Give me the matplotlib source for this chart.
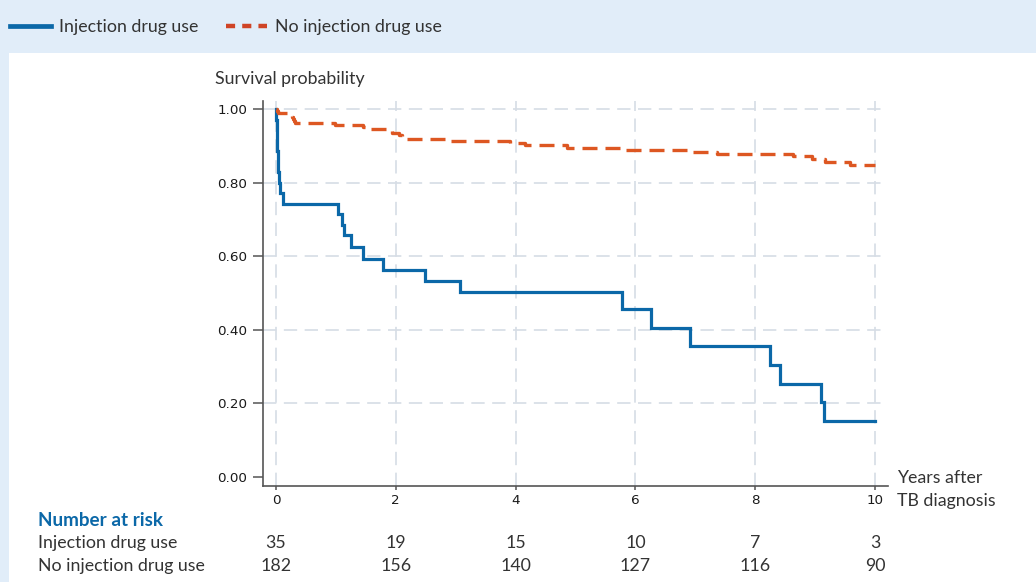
import matplotlib
matplotlib.use('Agg')
import matplotlib.pyplot as plt
from matplotlib.lines import Line2D
from matplotlib.patches import Rectangle
import matplotlib.transforms as mtransforms

# ---------------- data ----------------
groups = ["Injection drug use", "No injection drug use"]

t_idu = [0, 0.005, 0.01, 0.015, 0.02, 0.03, 0.04, 0.05, 0.07, 0.11,
         1.04, 1.10, 1.13, 1.26, 1.45, 1.78, 2.48, 3.08, 5.78, 6.26,
         6.91, 8.25, 8.41, 9.10, 9.15, 10.0]
s_idu = [1.0, 0.971, 0.943, 0.914, 0.886, 0.857, 0.829, 0.800, 0.771, 0.743,
         0.714, 0.686, 0.657, 0.626, 0.593, 0.562, 0.533, 0.503, 0.457, 0.406,
         0.356, 0.305, 0.254, 0.203, 0.152, 0.152]

t_nidu = [0, 0.01, 0.04, 0.24, 0.26, 0.28, 0.30, 0.32, 0.98, 1.45, 1.50,
          1.93, 2.05, 2.10, 2.15, 2.90, 3.90, 4.16, 4.85, 5.77, 6.91, 7.36,
          8.63, 8.94, 9.16, 9.58, 10.0]
s_nidu = [1.0, 0.995, 0.989, 0.984, 0.978, 0.973, 0.967, 0.962, 0.957, 0.951, 0.946,
          0.935, 0.929, 0.924, 0.918, 0.912, 0.907, 0.901, 0.894, 0.888, 0.884, 0.879,
          0.872, 0.865, 0.857, 0.848, 0.848]

risk_times = [0, 2, 4, 6, 8, 10]
risk_idu = [35, 19, 15, 10, 7, 3]
risk_nidu = [182, 156, 140, 127, 116, 90]

y_ticks = [0.0, 0.2, 0.4, 0.6, 0.8, 1.0]
x_ticks = [0, 2, 4, 6, 8, 10]

# ---------------- style ----------------
BLUE = '#0b68a8'
ORANGE = '#dd5722'
ORANGE_LEG = '#cf4426'
BG = '#e1edf9'
TEXT = '#333333'
GRID = '#d6dde5'
SPINE = '#555555'
FS = 12.8

plt.rcParams['font.family'] = ['Lato', 'DejaVu Sans']

W, H = 1036, 582
fig = plt.figure(figsize=(W / 100, H / 100), dpi=100)
fig.patch.set_facecolor(BG)
fig.add_artist(Rectangle((9 / W, 0), 1, (H - 53) / H, transform=fig.transFigure,
                         facecolor='white', edgecolor='none', zorder=-1))

def fx(px):
    return px / W

def fy(py):
    return 1 - py / H

ax = fig.add_axes([fx(263), fy(486), (888 - 263) / W, (486 - 101) / H])
ax.set_facecolor('none')

ax.step(t_idu, s_idu, where='post', color=BLUE, lw=2.3, solid_joinstyle='miter', zorder=3)
ax.step(t_nidu, s_nidu, where='post', color=ORANGE, lw=2.4,
        linestyle=(0, (4.5, 2.4)), zorder=3)

ax.set_xlim(-0.217, 10.217)
ax.set_ylim(-0.0245, 1.0217)

ax.set_yticks(y_ticks)
ax.set_yticklabels([f"{v:.2f}" for v in y_ticks], family='DejaVu Sans')
ax.set_xticks(x_ticks)
ax.set_xticklabels([str(v) for v in x_ticks], family='DejaVu Sans')

ax.tick_params(axis='y', direction='out', length=7, width=1.1, color=SPINE,
               pad=4.5, labelsize=9.7, labelcolor='#1a1a1a')
ax.tick_params(axis='x', direction='out', length=3, width=1.1, color=SPINE,
               pad=3, labelsize=9.7, labelcolor='#1a1a1a')

for side in ['top', 'right']:
    ax.spines[side].set_visible(False)
for side in ['left', 'bottom']:
    ax.spines[side].set_color(SPINE)
    ax.spines[side].set_linewidth(1.2)

ax.grid(True, color=GRID, lw=1.2, linestyle=(0, (8, 4.5)), zorder=1)
ax.set_axisbelow(True)
ax.yaxis.get_gridlines()[0].set_visible(False)

# axis titles
fig.text(fx(215), fy(79), "Survival probability", ha='left', va='center',
         fontsize=FS, color=TEXT)
fig.text(fx(897), fy(478), "Years after", ha='left', va='center',
         fontsize=FS, color=TEXT)
fig.text(fx(897), fy(501), "TB diagnosis", ha='left', va='center',
         fontsize=FS, color=TEXT)

# legend
handles = [Line2D([], [], color=BLUE, lw=3.4),
           Line2D([], [], color=ORANGE_LEG, lw=3.2, linestyle=(0, (2.05, 1.6)))]
em = FS * 100 / 72
fig.legend(handles, groups, loc='center left', bbox_to_anchor=(fx(10), fy(27)),
           ncol=2, frameon=False, fontsize=FS, handlelength=41 / em,
           handletextpad=8 / em, columnspacing=28 / em, borderpad=0,
           borderaxespad=0, labelcolor=TEXT)

# number at risk table
fig.text(fx(38), fy(520), "Number at risk", ha='left', va='center',
         fontsize=13.6, color=BLUE, fontweight='bold')
fig.text(fx(38), fy(543), groups[0], ha='left', va='center', fontsize=FS, color=TEXT)
fig.text(fx(38), fy(566), groups[1], ha='left', va='center', fontsize=FS, color=TEXT)

trans = mtransforms.blended_transform_factory(ax.transData, fig.transFigure)
for t, n1, n2 in zip(risk_times, risk_idu, risk_nidu):
    ax.text(t, fy(543), str(n1), transform=trans, ha='center', va='center',
            fontsize=FS, color=TEXT, clip_on=False)
    ax.text(t, fy(566), str(n2), transform=trans, ha='center', va='center',
            fontsize=FS, color=TEXT, clip_on=False)

fig.savefig('out.png', dpi=100, facecolor=fig.get_facecolor())
